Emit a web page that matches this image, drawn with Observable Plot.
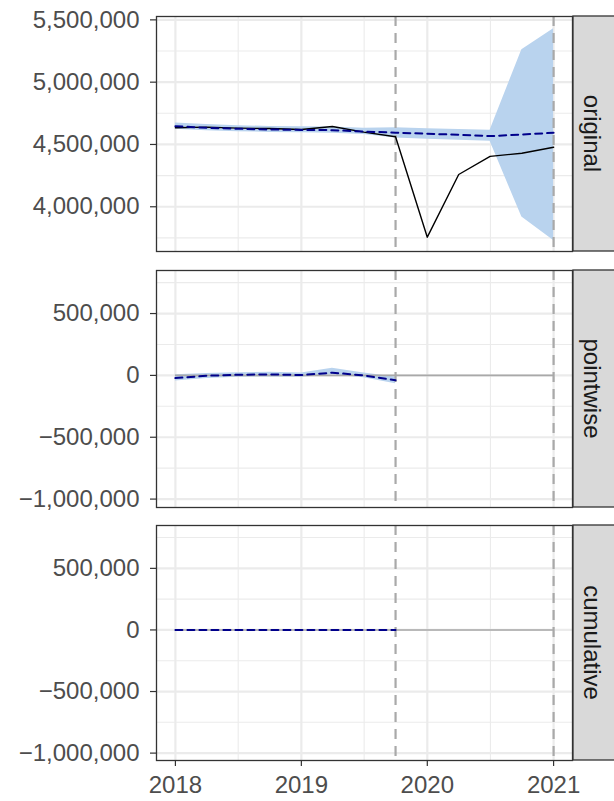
<!DOCTYPE html>
<html><head><meta charset="utf-8">
<script src="https://cdn.jsdelivr.net/npm/d3@7"></script>
<script src="https://cdn.jsdelivr.net/npm/@observablehq/plot@0.6"></script>
<style>
body{margin:0;background:#fff;}
#chart svg{display:block;}
</style></head><body><div id="chart"></div>
<script>
// ---- data ----
const dates = ["2018-01-01","2018-04-01","2018-07-01","2018-10-01","2019-01-01","2019-04-01","2019-07-01","2019-10-01","2020-01-01","2020-04-01","2020-07-01","2020-10-01","2021-01-01"];
const response  = [4634000,4639000,4631000,4628000,4620000,4644000,4599000,4562000,3756000,4259000,4404000,4430000,4478000];
const predicted = [4647000,4634000,4626000,4620000,4617000,4615000,4604000,4595000,4586000,4578000,4567000,4580000,4594000];
const predLower = [4622000,4610000,4602000,4597000,4594000,4591000,4580000,4552000,4542000,4533000,4525000,3917000,3730000];
const predUpper = [4672000,4660000,4650000,4645000,4642000,4640000,4630000,4634000,4626000,4620000,4615000,5260000,5428000];
// pre-period only
const preDates    = ["2018-01-01","2018-04-01","2018-07-01","2018-10-01","2019-01-01","2019-04-01","2019-07-01","2019-10-01"];
const pointEffect = [-22000,-3000,5000,8000,3000,22000,0,-40000];
const pointLower  = [-45000,-25000,-15000,-12000,-15000,5000,-20000,-68000];
const pointUpper  = [5000,15000,22000,25000,20000,58000,20000,-12000];
const cumEffect   = [0,0,0,0,0,0,0,0];
const panelLabels = ["original","pointwise","cumulative"];
const eventDates  = ["2019-10-01","2021-01-01"];
const xTickLabels = ["2018","2019","2020","2021"];
const xMinorTicks = ["2018-07-02","2019-07-02","2020-07-02"];
const yTicksOriginal = [4000000,4500000,5000000,5500000];
const yMinorOriginal = [3750000,4250000,4750000,5250000];
const yTicksEffect = [-1000000,-500000,0,500000];
const yMinorEffect = [-750000,-250000,250000,750000];

// ---- helpers ----
const parse = d3.utcParse("%Y-%m-%d");
const T = dates.map(parse);
const span = T[T.length-1] - T[0];
const xDomain = [new Date(+T[0] - 0.05*span), new Date(+T[T.length-1] + 0.05*span)];
const xMajor = xTickLabels.map(y => parse(y + "-01-01"));
const xMinor = xMinorTicks.map(parse);
const vlines = eventDates.map(parse);

const W = 614, ML = 156, MR = 42;
const FONT = "'Liberation Sans', Arial, Helvetica, sans-serif";
const FS = "24px";
const GRID = "#EBEBEB", BAND = "#B9D3EE", DARK = "#333333";

function grid(yMajor, yMinor) {
  return [
    Plot.ruleY(yMinor, {stroke: GRID, strokeWidth: 1.1}),
    Plot.ruleX(xMinor, {stroke: GRID, strokeWidth: 1.1}),
    Plot.ruleY(yMajor, {stroke: GRID, strokeWidth: 2.2}),
    Plot.ruleX(xMajor, {stroke: GRID, strokeWidth: 2.2})
  ];
}
function vl() {
  return Plot.ruleX(vlines, {stroke: "#A9A9A9", strokeWidth: 2.2, strokeDasharray: "10,7"});
}

function panel({height, mt, mb, yDomain, yMajor, yMinor, marks, label, showX}) {
  const svg = Plot.plot({
    width: W, height, marginLeft: ML, marginRight: MR, marginTop: mt, marginBottom: mb,
    style: {fontSize: FS, fontFamily: FONT, background: "#fff", overflow: "visible"},
    x: {type: "utc", domain: xDomain},
    y: {domain: yDomain},
    marks: [
      ...grid(yMajor, yMinor),
      ...marks,
      Plot.axisY(yMajor, {tickSize: 6, tickPadding: 11, tickFormat: d3.format(","), fill: "#4D4D4D", stroke: DARK, strokeWidth: 1.2, label: null}),
      showX ? Plot.axisX(xMajor, {tickSize: 6, tickPadding: 9, tickFormat: d3.utcFormat("%Y"), fill: "#4D4D4D", stroke: DARK, strokeWidth: 1.2, label: null})
            : Plot.axisX([], {label: null}),
      Plot.frame({stroke: DARK, strokeWidth: 1.3})
    ]
  });
  const ph = height - mt - mb;
  const s = d3.select(svg);
  s.append("rect").attr("x", W - MR + 1).attr("y", mt).attr("width", MR + 10).attr("height", ph)
    .attr("fill", "#D9D9D9").attr("stroke", DARK).attr("stroke-width", 1.3);
  s.append("text").attr("transform", `translate(${W - MR + 20},${mt + ph/2}) rotate(90)`)
    .attr("text-anchor", "middle").attr("dy", "0.35em").attr("fill", "#1A1A1A")
    .style("font-size", FS).style("font-family", FONT).text(label);
  return svg;
}

const orig = T.map((d,i) => ({date: d, y: response[i], pred: predicted[i], lo: predLower[i], hi: predUpper[i]}));
const pw = preDates.map((d,i) => ({date: parse(d), y: pointEffect[i], lo: pointLower[i], hi: pointUpper[i]}));
const cu = preDates.map((d,i) => ({date: parse(d), y: cumEffect[i]}));

const chart = document.getElementById("chart");
chart.append(panel({
  height: 261, mt: 16, mb: 10, yDomain: [3641000, 5527000], yMajor: yTicksOriginal, yMinor: yMinorOriginal,
  label: panelLabels[0], showX: false,
  marks: [
    Plot.areaY(orig, {x: "date", y1: "lo", y2: "hi", fill: BAND}),
    vl(),
    Plot.line(orig, {x: "date", y: "y", stroke: "#000", strokeWidth: 1.4}),
    Plot.line(orig, {x: "date", y: "pred", stroke: "#00008B", strokeWidth: 2, strokeDasharray: "7,5"})
  ]
}));
chart.append(panel({
  height: 254, mt: 9, mb: 8, yDomain: [-1068000, 848000], yMajor: yTicksEffect, yMinor: yMinorEffect,
  label: panelLabels[1], showX: false,
  marks: [
    Plot.areaY(pw, {x: "date", y1: "lo", y2: "hi", fill: BAND}),
    vl(),
    Plot.ruleY([0], {x1: () => T[0], x2: () => T[T.length-1], stroke: "#A9A9A9", strokeWidth: 1.6}),
    Plot.line(pw, {x: "date", y: "y", stroke: "#00008B", strokeWidth: 2, strokeDasharray: "7,5"})
  ]
}));
chart.append(panel({
  height: 286, mt: 10, mb: 41, yDomain: [-1060000, 848000], yMajor: yTicksEffect, yMinor: yMinorEffect,
  label: panelLabels[2], showX: true,
  marks: [
    vl(),
    Plot.ruleY([0], {x1: () => T[0], x2: () => T[T.length-1], stroke: "#A9A9A9", strokeWidth: 1.6}),
    Plot.line(cu, {x: "date", y: "y", stroke: "#00008B", strokeWidth: 2, strokeDasharray: "7,5"})
  ]
}));
</script></body></html>
